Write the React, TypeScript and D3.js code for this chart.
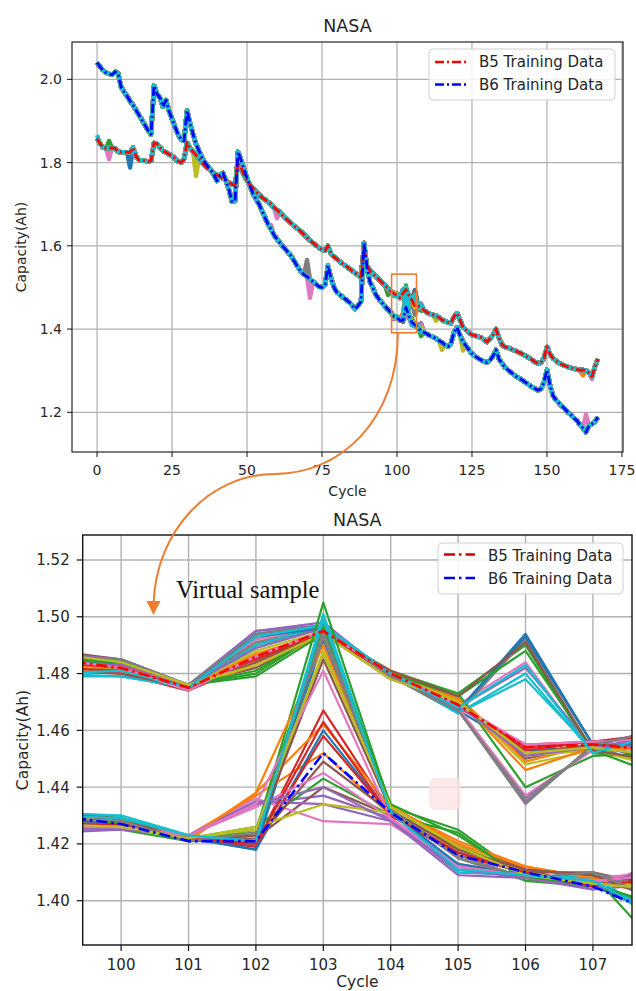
import React from "react";
import * as d3 from "d3";

// ---------------- DATA ----------------
const CHART_TITLE = "NASA";
const LEGEND_LABELS = ["B5 Training Data", "B6 Training Data"];
const X_LABEL = "Cycle";
const Y_LABEL = "Capacity(Ah)";
const ANNOTATION = "Virtual sample";

// Capacity per cycle (cycle 0..167)
const B5_CAPACITY = [
  1.857, 1.846, 1.836, 1.835, 1.835, 1.835, 1.834, 1.826, 1.825, 1.825,
  1.825, 1.824, 1.836, 1.815, 1.806, 1.805, 1.804, 1.803, 1.804, 1.847,
  1.845, 1.836, 1.828, 1.824, 1.820, 1.816, 1.810, 1.803, 1.800, 1.808,
  1.848, 1.834, 1.826, 1.818, 1.810, 1.800, 1.792, 1.786, 1.780, 1.774,
  1.770, 1.766, 1.762, 1.757, 1.752, 1.748, 1.745, 1.798, 1.788, 1.770,
  1.757, 1.746, 1.738, 1.730, 1.723, 1.716, 1.711, 1.706, 1.700, 1.692,
  1.686, 1.680, 1.672, 1.665, 1.659, 1.652, 1.646, 1.640, 1.634, 1.627,
  1.620, 1.613, 1.607, 1.601, 1.595, 1.591, 1.588, 1.600, 1.580, 1.574,
  1.568, 1.562, 1.556, 1.551, 1.546, 1.540, 1.535, 1.530, 1.525, 1.598,
  1.552, 1.540, 1.533, 1.526, 1.519, 1.512, 1.505, 1.497, 1.490, 1.485,
  1.482, 1.475, 1.486, 1.495, 1.480, 1.469, 1.454, 1.455, 1.453, 1.445,
  1.440, 1.436, 1.434, 1.432, 1.428, 1.422, 1.419, 1.416, 1.414, 1.430,
  1.438, 1.422, 1.405, 1.398, 1.391, 1.386, 1.384, 1.382, 1.380, 1.375,
  1.369, 1.377, 1.386, 1.400, 1.378, 1.363, 1.357, 1.355, 1.352, 1.349,
  1.346, 1.343, 1.339, 1.335, 1.331, 1.326, 1.321, 1.317, 1.320, 1.330,
  1.357, 1.340, 1.330, 1.324, 1.318, 1.315, 1.312, 1.309, 1.307, 1.305,
  1.303, 1.301, 1.302, 1.300, 1.295, 1.286, 1.310, 1.328,
];

const B6_CAPACITY = [
  2.040, 2.030, 2.022, 2.016, 2.013, 2.011, 2.018, 2.015, 1.982, 1.970,
  1.960, 1.948, 1.938, 1.926, 1.914, 1.902, 1.890, 1.877, 1.868, 1.985,
  1.965, 1.955, 1.934, 1.950, 1.924, 1.905, 1.886, 1.868, 1.856, 1.852,
  1.925, 1.895, 1.868, 1.845, 1.828, 1.812, 1.800, 1.790, 1.782, 1.770,
  1.756, 1.770, 1.775, 1.755, 1.735, 1.706, 1.708, 1.826, 1.806, 1.785,
  1.762, 1.744, 1.725, 1.712, 1.700, 1.684, 1.668, 1.652, 1.640, 1.626,
  1.616, 1.607, 1.598, 1.590, 1.582, 1.572, 1.560, 1.548, 1.538, 1.531,
  1.526, 1.520, 1.514, 1.508, 1.502, 1.500, 1.506, 1.552, 1.522, 1.500,
  1.488, 1.482, 1.476, 1.471, 1.465, 1.458, 1.448, 1.456, 1.466, 1.607,
  1.548, 1.512, 1.498, 1.482, 1.472, 1.463, 1.455, 1.447, 1.440, 1.430,
  1.427, 1.421, 1.421, 1.452, 1.431, 1.416, 1.410, 1.405, 1.395, 1.392,
  1.388, 1.384, 1.381, 1.377, 1.372, 1.368, 1.362, 1.358, 1.366, 1.392,
  1.404, 1.385, 1.370, 1.360, 1.350, 1.341, 1.335, 1.330, 1.326, 1.322,
  1.320, 1.325, 1.335, 1.350, 1.328, 1.318, 1.308, 1.302, 1.296, 1.290,
  1.285, 1.281, 1.276, 1.271, 1.266, 1.261, 1.257, 1.253, 1.256, 1.272,
  1.302, 1.266, 1.240, 1.230, 1.222, 1.215, 1.208, 1.200, 1.194, 1.186,
  1.180, 1.170, 1.162, 1.152, 1.168, 1.172, 1.178, 1.188,
];

// Virtual samples in the zoomed window (cycles 99..108)
const ZOOM_CYCLES = [99, 100, 101, 102, 103, 104, 105, 106, 107, 108];

const B5_SAMPLES = [
  [1.487, 1.484, 1.476, 1.494, 1.497, 1.479, 1.467, 1.494, 1.455, 1.449],
  [1.481, 1.482, 1.475, 1.491, 1.496, 1.480, 1.470, 1.452, 1.453, 1.455],
  [1.484, 1.483, 1.476, 1.480, 1.495, 1.481, 1.473, 1.490, 1.452, 1.450],
  [1.483, 1.480, 1.474, 1.484, 1.494, 1.480, 1.468, 1.455, 1.456, 1.458],
  [1.486, 1.484, 1.476, 1.495, 1.498, 1.479, 1.468, 1.435, 1.454, 1.461],
  [1.488, 1.485, 1.476, 1.482, 1.494, 1.478, 1.470, 1.450, 1.455, 1.452],
  [1.480, 1.481, 1.475, 1.493, 1.497, 1.480, 1.469, 1.484, 1.452, 1.460],
  [1.485, 1.484, 1.476, 1.490, 1.496, 1.479, 1.466, 1.492, 1.455, 1.446],
  [1.482, 1.481, 1.475, 1.487, 1.494, 1.480, 1.471, 1.448, 1.453, 1.447],
  [1.479, 1.479, 1.475, 1.489, 1.496, 1.480, 1.466, 1.478, 1.453, 1.457],
  [1.486, 1.483, 1.476, 1.492, 1.497, 1.480, 1.467, 1.453, 1.454, 1.456],
  [1.483, 1.482, 1.475, 1.483, 1.493, 1.481, 1.472, 1.449, 1.455, 1.450],
  [1.484, 1.484, 1.476, 1.479, 1.494, 1.480, 1.473, 1.440, 1.451, 1.452],
  [1.482, 1.481, 1.474, 1.486, 1.495, 1.480, 1.469, 1.454, 1.456, 1.459],
  [1.487, 1.485, 1.476, 1.495, 1.497, 1.479, 1.468, 1.482, 1.454, 1.458],
  [1.487, 1.484, 1.476, 1.485, 1.495, 1.479, 1.470, 1.452, 1.455, 1.454],
  [1.481, 1.480, 1.475, 1.492, 1.496, 1.480, 1.468, 1.437, 1.453, 1.455],
  [1.486, 1.485, 1.476, 1.491, 1.496, 1.479, 1.467, 1.436, 1.454, 1.451],
  [1.483, 1.482, 1.475, 1.488, 1.495, 1.480, 1.470, 1.451, 1.453, 1.448],
  [1.480, 1.479, 1.475, 1.490, 1.497, 1.480, 1.466, 1.480, 1.452, 1.456],
  [1.485, 1.484, 1.476, 1.493, 1.496, 1.479, 1.467, 1.493, 1.455, 1.452],
  [1.482, 1.483, 1.475, 1.487, 1.494, 1.481, 1.471, 1.446, 1.454, 1.453],
  [1.485, 1.484, 1.476, 1.481, 1.495, 1.480, 1.472, 1.488, 1.453, 1.444],
  [1.484, 1.482, 1.475, 1.485, 1.494, 1.480, 1.469, 1.453, 1.456, 1.457],
  [1.484, 1.483, 1.476, 1.489, 1.496, 1.479, 1.469, 1.451, 1.454, 1.455],
  [1.481, 1.480, 1.475, 1.484, 1.494, 1.481, 1.472, 1.491, 1.453, 1.449],
  [1.485, 1.482, 1.474, 1.486, 1.495, 1.480, 1.469, 1.455, 1.456, 1.457],
  [1.486, 1.485, 1.476, 1.494, 1.497, 1.479, 1.467, 1.434, 1.455, 1.460],
  [1.487, 1.484, 1.476, 1.483, 1.494, 1.478, 1.470, 1.452, 1.454, 1.451],
  [1.480, 1.481, 1.475, 1.493, 1.497, 1.480, 1.468, 1.483, 1.452, 1.459],
];

const B6_SAMPLES = [
  [1.428, 1.427, 1.422, 1.419, 1.492, 1.432, 1.412, 1.408, 1.406, 1.398],
  [1.431, 1.428, 1.423, 1.437, 1.452, 1.430, 1.418, 1.412, 1.407, 1.402],
  [1.426, 1.425, 1.421, 1.424, 1.505, 1.433, 1.425, 1.408, 1.409, 1.383],
  [1.430, 1.429, 1.422, 1.420, 1.467, 1.431, 1.419, 1.411, 1.405, 1.412],
  [1.424, 1.426, 1.423, 1.434, 1.437, 1.429, 1.410, 1.409, 1.404, 1.414],
  [1.431, 1.429, 1.421, 1.422, 1.440, 1.430, 1.420, 1.410, 1.410, 1.405],
  [1.425, 1.426, 1.423, 1.436, 1.428, 1.427, 1.412, 1.409, 1.408, 1.410],
  [1.429, 1.428, 1.421, 1.423, 1.496, 1.432, 1.415, 1.407, 1.410, 1.401],
  [1.427, 1.426, 1.422, 1.425, 1.487, 1.434, 1.418, 1.409, 1.406, 1.404],
  [1.430, 1.430, 1.423, 1.421, 1.498, 1.431, 1.411, 1.409, 1.407, 1.393],
  [1.426, 1.427, 1.422, 1.418, 1.460, 1.430, 1.417, 1.410, 1.406, 1.397],
  [1.429, 1.428, 1.421, 1.438, 1.490, 1.433, 1.421, 1.412, 1.408, 1.403],
  [1.431, 1.429, 1.422, 1.426, 1.443, 1.430, 1.424, 1.407, 1.405, 1.399],
  [1.428, 1.428, 1.422, 1.419, 1.458, 1.430, 1.416, 1.410, 1.406, 1.409],
  [1.425, 1.426, 1.423, 1.435, 1.434, 1.428, 1.409, 1.408, 1.404, 1.406],
  [1.430, 1.429, 1.421, 1.421, 1.449, 1.431, 1.419, 1.411, 1.409, 1.400],
  [1.427, 1.427, 1.423, 1.433, 1.445, 1.429, 1.413, 1.409, 1.407, 1.411],
  [1.429, 1.428, 1.421, 1.424, 1.493, 1.432, 1.416, 1.408, 1.410, 1.403],
  [1.428, 1.426, 1.422, 1.426, 1.434, 1.431, 1.420, 1.410, 1.406, 1.405],
  [1.431, 1.430, 1.423, 1.420, 1.501, 1.432, 1.410, 1.409, 1.408, 1.395],
  [1.427, 1.427, 1.422, 1.418, 1.496, 1.431, 1.413, 1.409, 1.405, 1.396],
  [1.429, 1.428, 1.422, 1.438, 1.462, 1.433, 1.420, 1.412, 1.408, 1.402],
  [1.430, 1.427, 1.421, 1.425, 1.497, 1.434, 1.423, 1.408, 1.406, 1.398],
  [1.426, 1.427, 1.422, 1.420, 1.463, 1.430, 1.417, 1.410, 1.405, 1.408],
  [1.424, 1.425, 1.423, 1.434, 1.440, 1.428, 1.411, 1.408, 1.404, 1.413],
  [1.430, 1.429, 1.421, 1.423, 1.485, 1.432, 1.418, 1.411, 1.409, 1.401],
  [1.426, 1.426, 1.423, 1.434, 1.481, 1.429, 1.412, 1.409, 1.407, 1.409],
  [1.429, 1.428, 1.421, 1.424, 1.495, 1.432, 1.415, 1.408, 1.410, 1.400],
  [1.427, 1.426, 1.422, 1.425, 1.488, 1.433, 1.419, 1.409, 1.406, 1.404],
  [1.430, 1.429, 1.423, 1.421, 1.499, 1.431, 1.411, 1.409, 1.407, 1.394],
];

// Other visible deviations of virtual samples in the full-range plot: [sample, cycle, capacity]
const B5_SAMPLE_SPIKES = [
  [9, 0, 1.866], [6, 4, 1.808], [2, 4, 1.852], [0, 11, 1.788], [4, 12, 1.822],
  [8, 33, 1.768], [6, 60, 1.666], [2, 97, 1.482], [8, 113, 1.420],
  [1, 162, 1.289], [6, 165, 1.280],
];
const B6_SAMPLE_SPIKES = [
  [6, 58, 1.650], [7, 70, 1.566], [6, 71, 1.475], [8, 115, 1.350],
  [8, 122, 1.348], [6, 163, 1.195],
];

const TOP_X_TICKS = [0, 25, 50, 75, 100, 125, 150, 175];
const TOP_Y_TICKS = [1.2, 1.4, 1.6, 1.8, 2.0];
const BOT_X_TICKS = [100, 101, 102, 103, 104, 105, 106, 107];
const BOT_Y_TICKS = [1.40, 1.42, 1.44, 1.46, 1.48, 1.50, 1.52];

// ---------------- STYLE ----------------
const TAB10 = ["#1f77b4", "#ff7f0e", "#2ca02c", "#d62728", "#9467bd", "#8c564b", "#e377c2", "#7f7f7f", "#bcbd22", "#17becf"];
const FONT = "DejaVu Sans, sans-serif";
const ORANGE = "#ed7d31";
const GRID = "#b0b0b0";
const TXT = "#262626";

type P = [number, number];

function sampleSeries(base: number[], window: number[], spikes: number[][], idx: number): P[] {
  return base.map((v, c) => {
    let val = v;
    const w = c - ZOOM_CYCLES[0];
    if (w >= 0 && w < window.length) val = window[w];
    spikes.forEach(([s, cy, cap]) => {
      if (s === idx && cy === c) val = cap;
    });
    return [c, val] as P;
  });
}

export default function App() {
  // top chart
  const tL = 72, tR = 623, tT = 42, tB = 452;
  const xTop = d3.scaleLinear().domain([-8.35, 175.35]).range([tL, tR]);
  const yTop = d3.scaleLinear().domain([1.1046, 2.0897]).range([tB, tT]);
  const lineTop = d3.line<P>().x((d) => xTop(d[0])).y((d) => yTop(d[1]));

  // bottom chart
  const bL = 82.7, bR = 632, bT = 535, bB = 945;
  const xBot = d3.scaleLinear().domain([99.43, 107.58]).range([bL, bR]);
  const yBot = d3.scaleLinear().domain([1.3844, 1.5288]).range([bB, bT]);
  const lineBot = d3.line<P>().x((d) => xBot(d[0])).y((d) => yBot(d[1]));

  const b5Base: P[] = B5_CAPACITY.map((v, c) => [c, v]);
  const b6Base: P[] = B6_CAPACITY.map((v, c) => [c, v]);

  const b5Top = B5_SAMPLES.map((s, i) => sampleSeries(B5_CAPACITY, s, B5_SAMPLE_SPIKES, i));
  const b6Top = B6_SAMPLES.map((s, i) => sampleSeries(B6_CAPACITY, s, B6_SAMPLE_SPIKES, i));

  const b5Bot = B5_SAMPLES.map((s) => s.map((v, k) => [ZOOM_CYCLES[k], v] as P));
  const b6Bot = B6_SAMPLES.map((s) => s.map((v, k) => [ZOOM_CYCLES[k], v] as P));
  const b5BaseBot: P[] = ZOOM_CYCLES.map((c) => [c, B5_CAPACITY[c]]);
  const b6BaseBot: P[] = ZOOM_CYCLES.map((c) => [c, B6_CAPACITY[c]]);

  const zoomRect = { x0: 98.2, x1: 106.5, y0: 1.532, y1: 1.391 };

  return (
    <svg width={636} height={991} style={{ position: "absolute", left: 0, top: 0, background: "#fff" }} fontFamily={FONT}>
      <defs>
        <clipPath id="clipTop">
          <rect x={tL} y={tT} width={tR - tL} height={tB - tT} />
        </clipPath>
        <clipPath id="clipBot">
          <rect x={bL} y={bT} width={bR - bL} height={bB - bT} />
        </clipPath>
      </defs>
      <rect x={0} y={0} width={636} height={991} fill="#fff" />

      {/* ================= TOP CHART ================= */}
      <text x={(tL + tR) / 2} y={31.5} textAnchor="middle" fontSize={17.5} fill={TXT}>{CHART_TITLE}</text>
      <g>
        {TOP_X_TICKS.map((t) => (
          <line key={"tgx" + t} x1={xTop(t)} x2={xTop(t)} y1={tT} y2={tB} stroke={GRID} strokeWidth={1.2} />
        ))}
        {TOP_Y_TICKS.map((t) => (
          <line key={"tgy" + t} x1={tL} x2={tR} y1={yTop(t)} y2={yTop(t)} stroke={GRID} strokeWidth={1.2} />
        ))}
      </g>
      <g clipPath="url(#clipTop)" fill="none" strokeLinejoin="round">
        {b5Top.map((s, i) => (
          <path key={"b5t" + i} d={lineTop(s) || ""} stroke={TAB10[i % 10]} strokeWidth={4.4} />
        ))}
        {b6Top.map((s, i) => (
          <path key={"b6t" + i} d={lineTop(s) || ""} stroke={TAB10[i % 10]} strokeWidth={4.4} />
        ))}
        <path d={lineTop(b5Base) || ""} stroke="red" strokeWidth={2.8} strokeDasharray="9,3,2,3" />
        <path d={lineTop(b6Base) || ""} stroke="blue" strokeWidth={2.8} strokeDasharray="9,3,2,3" />
      </g>
      <rect x={tL} y={tT} width={tR - tL} height={tB - tT} fill="none" stroke="#111" strokeWidth={1.1} />
      {TOP_X_TICKS.map((t) => (
        <g key={"tx" + t}>
          <line x1={xTop(t)} x2={xTop(t)} y1={tB} y2={tB + 5} stroke="#111" strokeWidth={1} />
          <text x={xTop(t)} y={475} textAnchor="middle" fontSize={14} fill={TXT}>{t}</text>
        </g>
      ))}
      {TOP_Y_TICKS.map((t) => (
        <g key={"ty" + t}>
          <line x1={tL - 5} x2={tL} y1={yTop(t)} y2={yTop(t)} stroke="#111" strokeWidth={1} />
          <text x={tL - 10} y={yTop(t) + 5} textAnchor="end" fontSize={14} fill={TXT}>{t.toFixed(1)}</text>
        </g>
      ))}
      <text x={(tL + tR) / 2} y={495.5} textAnchor="middle" fontSize={14} fill={TXT}>{X_LABEL}</text>
      <text transform={`translate(26,${(tT + tB) / 2}) rotate(-90)`} textAnchor="middle" fontSize={14} fill={TXT}>{Y_LABEL}</text>

      {/* top legend */}
      <g>
        <rect x={429} y={49} width={186} height={51} rx={4} fill="#fff" fillOpacity={0.85} stroke="#d0d0d0" strokeWidth={1} />
        <line x1={435} x2={467} y1={62} y2={62} stroke="red" strokeWidth={2.6} strokeDasharray="9,3,2,3" />
        <line x1={435} x2={467} y1={84.5} y2={84.5} stroke="blue" strokeWidth={2.6} strokeDasharray="9,3,2,3" />
        <text x={479} y={67} fontSize={15} fill={TXT}>{LEGEND_LABELS[0]}</text>
        <text x={479} y={90} fontSize={15} fill={TXT}>{LEGEND_LABELS[1]}</text>
      </g>

      {/* ================= BOTTOM CHART ================= */}
      <text x={(bL + bR) / 2} y={526} textAnchor="middle" fontSize={17.5} fill={TXT}>{CHART_TITLE}</text>
      <g>
        {BOT_X_TICKS.map((t) => (
          <line key={"bgx" + t} x1={xBot(t)} x2={xBot(t)} y1={bT} y2={bB} stroke={GRID} strokeWidth={1.4} />
        ))}
        {BOT_Y_TICKS.map((t) => (
          <line key={"bgy" + t} x1={bL} x2={bR} y1={yBot(t)} y2={yBot(t)} stroke={GRID} strokeWidth={1.4} />
        ))}
      </g>
      <rect x={429} y={778} width={32} height={32} rx={6} fill="#fbe3e3" opacity={0.8} />
      <g clipPath="url(#clipBot)" fill="none" strokeLinejoin="round">
        {b5Bot.map((s, i) => (
          <path key={"b5b" + i} d={lineBot(s) || ""} stroke={TAB10[i % 10]} strokeWidth={2.2} />
        ))}
        {b6Bot.map((s, i) => (
          <path key={"b6b" + i} d={lineBot(s) || ""} stroke={TAB10[i % 10]} strokeWidth={2.2} />
        ))}
        <path d={lineBot(b5BaseBot) || ""} stroke="red" strokeWidth={2.6} strokeDasharray="11,4,2.5,4" />
        <path d={lineBot(b6BaseBot) || ""} stroke="blue" strokeWidth={2.6} strokeDasharray="11,4,2.5,4" />
      </g>
      <rect x={bL} y={bT} width={bR - bL} height={bB - bT} fill="none" stroke="#111" strokeWidth={1.4} />
      {BOT_X_TICKS.map((t) => (
        <g key={"bx" + t}>
          <line x1={xBot(t)} x2={xBot(t)} y1={bB} y2={bB + 6} stroke="#111" strokeWidth={1.2} />
          <text x={xBot(t)} y={970} textAnchor="middle" fontSize={15} fill={TXT}>{t}</text>
        </g>
      ))}
      {BOT_Y_TICKS.map((t) => (
        <g key={"by" + t}>
          <line x1={bL - 6} x2={bL} y1={yBot(t)} y2={yBot(t)} stroke="#111" strokeWidth={1.2} />
          <text x={bL - 13} y={yBot(t) + 5.5} textAnchor="end" fontSize={15} fill={TXT}>{t.toFixed(2)}</text>
        </g>
      ))}
      <text x={(bL + bR) / 2} y={987} textAnchor="middle" fontSize={15.5} fill={TXT}>{X_LABEL}</text>
      <text transform={`translate(28,${(bT + bB) / 2}) rotate(-90)`} textAnchor="middle" fontSize={15.5} fill={TXT}>{Y_LABEL}</text>

      {/* bottom legend */}
      <g>
        <rect x={438} y={543} width={185} height={51} rx={4} fill="#fff" fillOpacity={0.85} stroke="#d0d0d0" strokeWidth={1} />
        <line x1={444} x2={475} y1={554.5} y2={554.5} stroke="#d00000" strokeWidth={2.6} strokeDasharray="11,4,2.5,4" />
        <line x1={444} x2={475} y1={578} y2={578} stroke="blue" strokeWidth={2.6} strokeDasharray="11,4,2.5,4" />
        <text x={488} y={560.5} fontSize={15} fill={TXT}>{LEGEND_LABELS[0]}</text>
        <text x={488} y={584} fontSize={15} fill={TXT}>{LEGEND_LABELS[1]}</text>
      </g>

      {/* annotation */}
      <text x={176} y={598} fontFamily="Liberation Serif, Times New Roman, serif" fontSize={24.5} fill="#111">{ANNOTATION}</text>

      {/* zoom box and arrow */}
      <rect
        x={xTop(zoomRect.x0)}
        y={yTop(zoomRect.y0)}
        width={xTop(zoomRect.x1) - xTop(zoomRect.x0)}
        height={yTop(zoomRect.y1) - yTop(zoomRect.y0)}
        fill="none"
        stroke={ORANGE}
        strokeWidth={1.6}
      />
      <path
        d={`M${xTop(100.3)},${yTop(zoomRect.y1)} C398,420 340,474 275,474 C210,474 156,530 153.5,604`}
        fill="none"
        stroke={ORANGE}
        strokeWidth={2}
      />
      <path d="M146.5,601 L160.5,601 L153.5,615 Z" fill={ORANGE} />
    </svg>
  );
}
